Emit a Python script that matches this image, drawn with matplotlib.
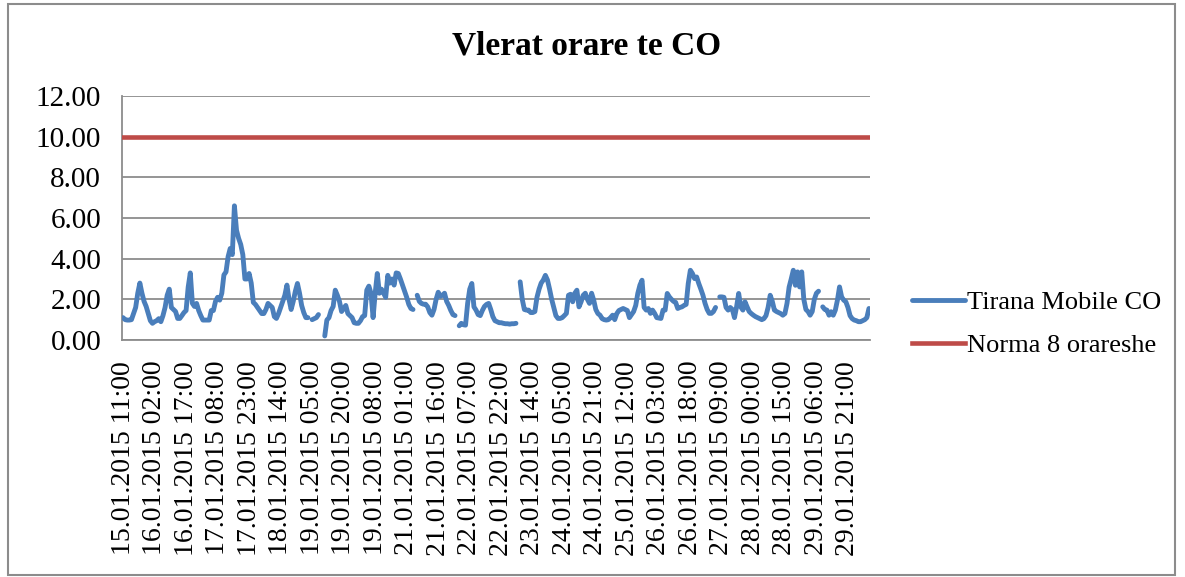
import numpy as np
import matplotlib
matplotlib.use("Agg")
import matplotlib.pyplot as plt
from matplotlib.patches import Rectangle

plt.rcParams['font.family'] = ['Liberation Serif', 'DejaVu Serif']

# hourly CO values (mg/m3), one row per 15 categories = one tick label
nan = np.nan
co_values = [
    1.1, 1.0, 0.98, 0.98, 1.0, 1.3, 1.6, 2.3, 2.8, 2.3, 1.9, 1.65, 1.3, 0.95, 0.82,
    0.9, 0.95, 1.05, 0.9, 1.2, 1.6, 2.2, 2.5, 1.6, 1.5, 1.4, 1.06, 1.06, 1.2, 1.35,
    1.45, 2.6, 3.3, 1.8, 1.65, 1.8, 1.45, 1.2, 0.98, 0.98, 0.98, 0.98, 1.45, 1.45, 1.9,
    2.1, 1.96, 2.3, 3.2, 3.35, 4.1, 4.5, 4.2, 6.6, 5.4, 5.0, 4.7, 4.2, 3.0, 3.0,
    3.27, 2.8, 1.85, 1.75, 1.6, 1.45, 1.3, 1.3, 1.5, 1.8, 1.7, 1.6, 1.15, 1.06, 1.3,
    1.6, 1.9, 2.2, 2.7, 2.0, 1.5, 1.9, 2.4, 2.78, 2.3, 1.7, 1.35, 1.1, 1.1, nan,
    1.0, 1.05, 1.1, 1.25, nan, nan, 0.2, 0.98, 1.1, 1.45, 1.65, 2.45, 2.2, 1.9, 1.4,
    1.55, 1.7, 1.3, 1.2, 1.1, 0.85, 0.82, 0.82, 0.95, 1.15, 1.2, 2.45, 2.65, 2.3, 1.1,
    2.3, 3.27, 2.3, 2.5, 2.3, 2.1, 3.18, 2.8, 3.0, 2.7, 3.3, 3.27, 3.0, 2.7, 2.4,
    2.1, 1.75, 1.55, 1.5, nan, 2.2, 1.9, 1.8, 1.76, 1.76, 1.63, 1.35, 1.22, 1.5, 2.0,
    2.35, 2.15, 2.2, 2.3, 1.9, 1.7, 1.45, 1.25, 1.2, nan, 0.7, 0.82, 0.75, 0.73, 1.8,
    2.5, 2.78, 1.63, 1.47, 1.25, 1.2, 1.45, 1.65, 1.75, 1.8, 1.5, 1.15, 0.95, 0.9, 0.85,
    0.85, 0.82, 0.8, 0.8, 0.78, 0.8, 0.8, 0.82, nan, 2.86, 2.0, 1.5, 1.47, 1.47, 1.35,
    1.35, 1.4, 2.1, 2.5, 2.8, 2.95, 3.18, 2.95, 2.5, 2.0, 1.6, 1.2, 1.06, 1.06, 1.1,
    1.2, 1.31, 2.2, 2.25, 1.88, 2.3, 2.45, 1.63, 1.88, 2.2, 2.3, 2.0, 1.8, 2.3, 1.96,
    1.5, 1.3, 1.22, 1.05, 1.0, 0.98, 1.0, 1.1, 1.22, 1.0, 1.3, 1.45, 1.5, 1.55, 1.5,
    1.45, 1.1, 1.25, 1.4, 1.7, 2.3, 2.7, 2.94, 1.6, 1.47, 1.55, 1.31, 1.47, 1.31, 1.1,
    1.08, 1.06, 1.47, 1.47, 2.29, 2.12, 2.0, 1.9, 1.85, 1.55, 1.6, 1.63, 1.7, 1.75, 2.78,
    3.43, 3.27, 3.02, 3.1, 2.78, 2.5, 2.2, 1.8, 1.5, 1.31, 1.31, 1.4, 1.6, nan, 2.12,
    2.12, 2.1, 1.6, 1.47, 1.6, 1.5, 1.1, 1.63, 2.29, 1.63, 1.47, 1.88, 1.63, 1.4, 1.3,
    1.22, 1.15, 1.1, 1.05, 1.0, 1.05, 1.2, 1.6, 2.2, 1.9, 1.47, 1.4, 1.35, 1.3, 1.22,
    1.3, 1.8, 2.6, 3.0, 3.43, 2.69, 3.35, 2.61, 3.35, 2.0, 1.5, 1.4, 1.22, 1.4, 2.0,
    2.3, 2.4, nan, 1.63, 1.5, 1.47, 1.22, 1.39, 1.22, 1.47, 1.96, 2.61, 2.12, 1.96, 1.88,
    1.6, 1.2, 1.05, 0.98, 0.95, 0.9, 0.9, 0.95, 1.0, 1.1, 1.55,
]
norma = 10.0

tick_labels = [
    "15.01.2015 11:00", "16.01.2015 02:00", "16.01.2015 17:00", "17.01.2015 08:00",
    "17.01.2015 23:00", "18.01.2015 14:00", "19.01.2015 05:00", "19.01.2015 20:00",
    "19.01.2015 08:00", "21.01.2015 01:00", "21.01.2015 16:00", "22.01.2015 07:00",
    "22.01.2015 22:00", "23.01.2015 14:00", "24.01.2015 05:00", "24.01.2015 21:00",
    "25.01.2015 12:00", "26.01.2015 03:00", "26.01.2015 18:00", "27.01.2015 09:00",
    "28.01.2015 00:00", "28.01.2015 15:00", "29.01.2015 06:00", "29.01.2015 21:00",
]
label_step = 15

co = np.array(co_values, dtype=float)
n = len(co)
x = np.arange(n)

fig = plt.figure(figsize=(11.85, 5.77), dpi=100)
ax = fig.add_axes([122 / 1185, 1 - 340 / 577, 748 / 1185, 244 / 577])

ax.plot(x, co, color='#4A7EBB', lw=3.5, solid_capstyle='round', label='Tirana Mobile CO', zorder=3)
ax.plot(x, np.full(n, norma), color='#BE4B48', lw=3.3, label='Norma 8 orareshe', zorder=3)

ax.set_xlim(-0.5, n - 0.5)
ax.set_ylim(0, 12)
ax.set_yticks(np.arange(0, 13, 2))
ax.set_yticklabels([f"{v:.2f}" for v in np.arange(0, 13, 2)], fontsize=21)
ax.set_xticks(np.arange(len(tick_labels)) * label_step)
ax.set_xticklabels(tick_labels, rotation=90, fontsize=20)
ax.tick_params(length=0)
ax.tick_params(axis='x', pad=15)
ax.tick_params(axis='y', pad=15)

ax.grid(axis='y', color='#8C8C8C', lw=1.3)
for s in ['top', 'right']:
    ax.spines[s].set_visible(False)
for s in ['left', 'bottom']:
    ax.spines[s].set_color('#8C8C8C')
    ax.spines[s].set_linewidth(1.3)

fig.text(587 / 1185, 1 - 46 / 577, "Vlerat orare te CO", ha='center', va='center',
         fontsize=24, fontweight='bold')

ax.legend(loc='center left', bbox_to_anchor=(912 / 1185, 1 - 324 / 577),
          bbox_transform=fig.transFigure, frameon=False, fontsize=19,
          handlelength=2.0, handletextpad=0.1, labelspacing=0.75,
          borderpad=0, borderaxespad=0)

fig.patches.append(Rectangle((8 / 1185, 2 / 577), 1167 / 1185, 571 / 577,
                             transform=fig.transFigure, fill=False,
                             edgecolor='#8C8C8C', lw=1.5))

fig.savefig("out.png", dpi=100)
